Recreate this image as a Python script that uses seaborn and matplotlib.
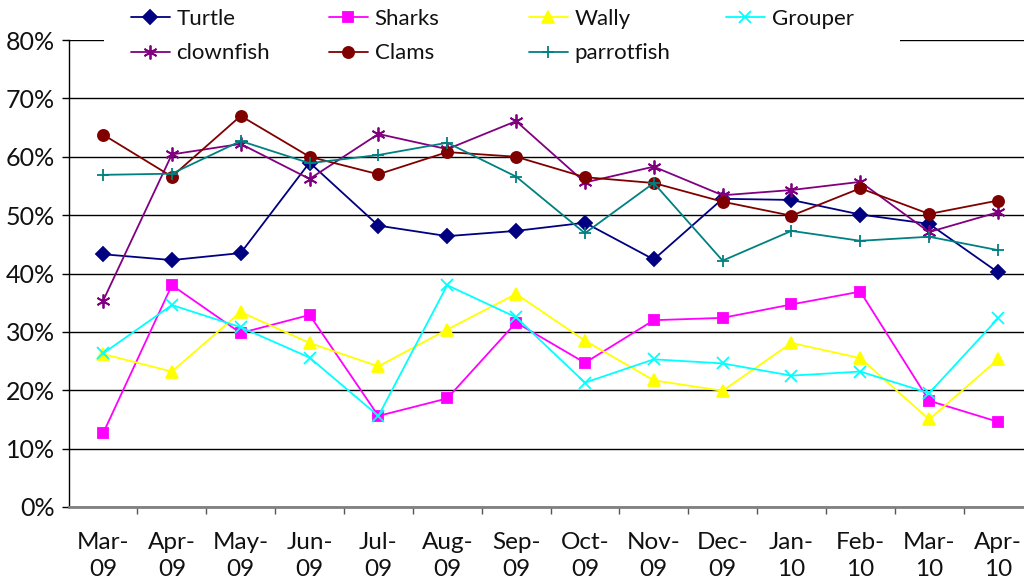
import numpy as np
import pandas as pd
import matplotlib
matplotlib.use("Agg")
import matplotlib.pyplot as plt
import seaborn as sns
from matplotlib.patches import Rectangle
from matplotlib.ticker import FixedLocator, PercentFormatter

# Monthly shares (%)
months = ["Mar-\n09", "Apr-\n09", "May-\n09", "Jun-\n09", "Jul-\n09", "Aug-\n09", "Sep-\n09",
          "Oct-\n09", "Nov-\n09", "Dec-\n09", "Jan-\n10", "Feb-\n10", "Mar-\n10", "Apr-\n10"]

turtle = [43.3, 42.3, 43.5, 59.0, 48.2, 46.4, 47.3, 48.7, 42.4, 52.8, 52.6, 50.1, 48.5, 40.2]
sharks = [12.6, 38.0, 29.8, 32.9, 15.6, 18.6, 31.6, 24.7, 32.0, 32.4, 34.7, 36.9, 18.2, 14.6]
wally = [26.2, 23.2, 33.4, 28.1, 24.1, 30.4, 36.5, 28.5, 21.7, 19.9, 28.1, 25.5, 15.0, 25.3]
grouper = [26.3, 34.6, 30.8, 25.6, 15.6, 38.0, 32.5, 21.3, 25.3, 24.6, 22.5, 23.2, 19.5, 32.3]
clownfish = [35.3, 60.4, 62.2, 56.2, 63.9, 61.3, 66.1, 55.6, 58.3, 53.4, 54.3, 55.7, 47.1, 50.5]
clams = [63.8, 56.6, 67.0, 60.0, 57.0, 60.8, 60.0, 56.5, 55.5, 52.3, 49.9, 54.6, 50.2, 52.5]
parrotfish = [56.9, 57.1, 62.7, 58.9, 60.3, 62.4, 56.6, 46.9, 55.5, 42.2, 47.3, 45.6, 46.3, 44.0]

series = {
    "Turtle": turtle,
    "Sharks": sharks,
    "Wally": wally,
    "Grouper": grouper,
    "clownfish": clownfish,
    "Clams": clams,
    "parrotfish": parrotfish,
}

# line colour, marker, marker size
styles = {
    "Turtle": ("#000080", "D", 7),
    "Sharks": ("#FF00FF", "s", 7),
    "Wally": ("#FFFF00", "^", 8),
    "Grouper": ("#00FFFF", "x", 8),
    "clownfish": ("#800080", (6, 2, 0), 10),
    "Clams": ("#800000", "o", 8),
    "parrotfish": ("#008080", "+", 9),
}

sns.set_theme(style="white")
plt.rcParams["font.family"] = ["Lato", "DejaVu Sans"]

fig = plt.figure(figsize=(10.24, 5.82), dpi=100)
ax = fig.add_axes([68.6 / 1024, 75 / 582, (1032.4 - 68.6) / 1024, 467 / 582])

x = np.arange(len(months))
handles = {}
for name, values in series.items():
    color, marker, ms = styles[name]
    sns.lineplot(x=x, y=values, ax=ax, color=color, marker=marker, markersize=ms,
                 linewidth=1.3, markeredgecolor=color, markerfacecolor=color,
                 markeredgewidth=1.3, label=name, legend=False)
    handles[name] = ax.lines[-1]

ax.set_xlim(-0.5, len(months) - 0.5)
ax.set_ylim(0, 80)
ax.set_yticks(np.arange(0, 81, 10))
ax.yaxis.set_major_formatter(PercentFormatter(decimals=0))
ax.set_xticks(x)
ax.set_xticklabels(months, linespacing=1.35)
ax.xaxis.set_minor_locator(FixedLocator(np.arange(0.5, len(months) - 0.5, 1)))

ax.grid(axis="y", color="black", linewidth=1.0)
ax.set_axisbelow(True)
ax.tick_params(axis="x", which="major", length=0, pad=18, labelsize=17.5, colors="#111111")
ax.tick_params(axis="x", which="minor", length=5, width=1, color="#555555", direction="out", bottom=True)
ax.tick_params(axis="y", length=5, width=1, color="black", direction="out", left=True,
               pad=5, labelsize=18, labelcolor="#111111")
for side in ["top", "right"]:
    ax.spines[side].set_visible(False)
ax.spines["left"].set_color("black")
ax.spines["left"].set_linewidth(1.0)
ax.spines["bottom"].set_color("#808080")
ax.spines["bottom"].set_linewidth(2.0)
ax.set_xlabel("")
ax.set_ylabel("")

# white block behind the legend, as in the original
fig.patches.append(Rectangle((104 / 1024, 1 - 66 / 582), 796 / 1024, 66 / 582,
                             transform=fig.transFigure, facecolor="white",
                             edgecolor="none", zorder=1))

columns = [["Turtle", "clownfish"], ["Sharks", "Clams"], ["Wally", "parrotfish"], ["Grouper"]]
col_x = [131, 329, 529, 726]
for names, cx in zip(columns, col_x):
    leg = fig.legend([handles[n] for n in names], names, loc="upper left",
                     bbox_to_anchor=(cx / 1024, 1 - 9 / 582), frameon=False,
                     fontsize=16, handlelength=1.75, handletextpad=0.3,
                     labelspacing=0.65, borderpad=0, borderaxespad=0)
    for t in leg.get_texts():
        t.set_color("#111111")

fig.savefig("out.png", dpi=100)
